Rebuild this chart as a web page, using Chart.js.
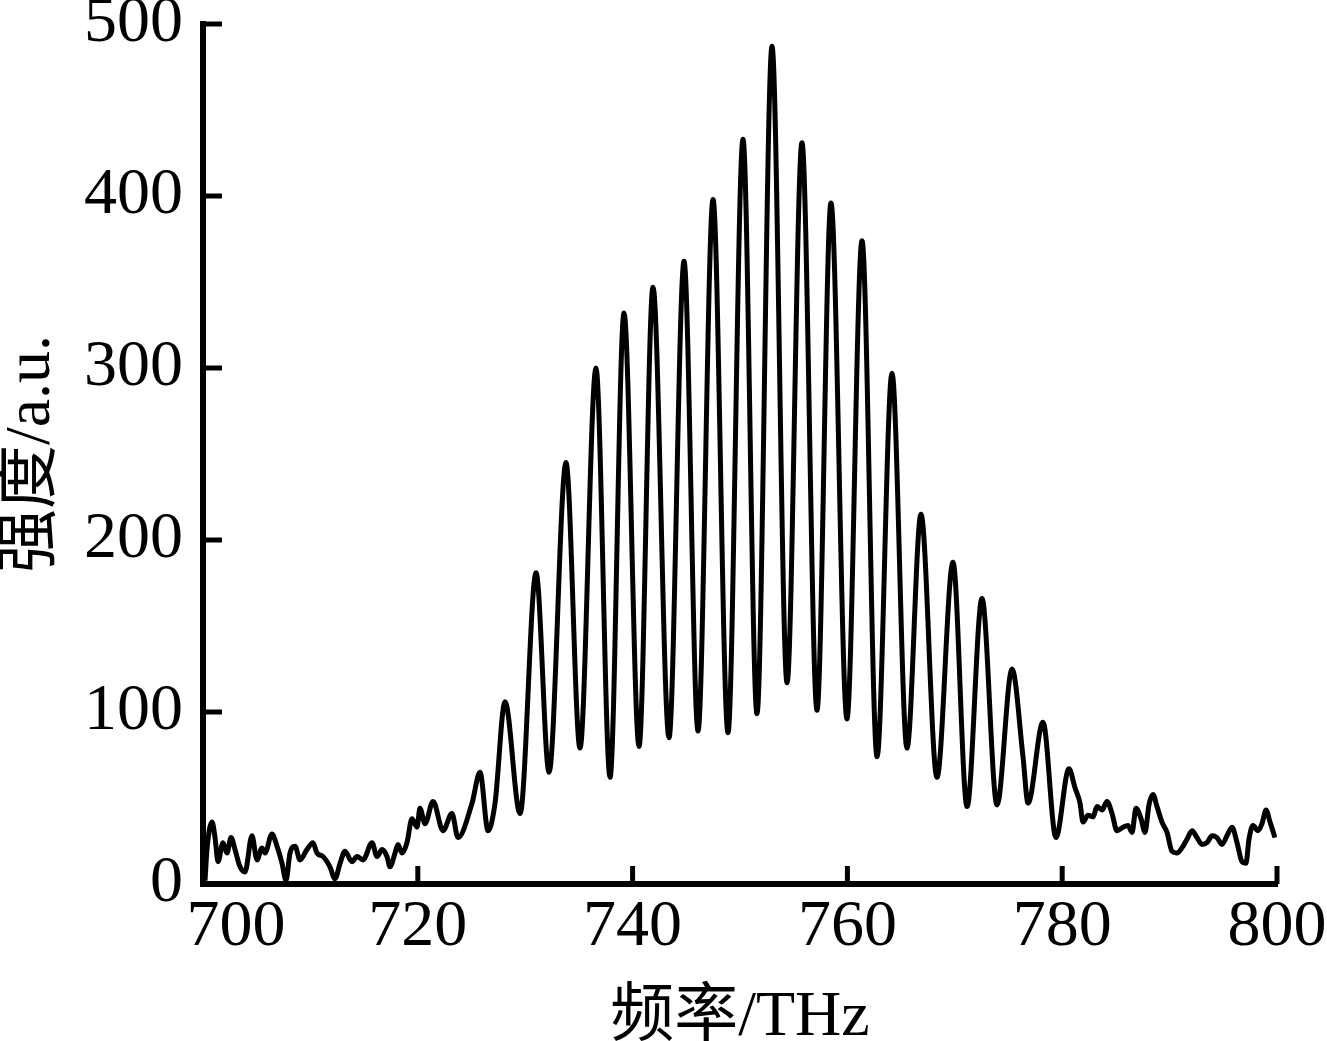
<!DOCTYPE html>
<html>
<head>
<meta charset="utf-8">
<title>频率/THz</title>
<script src="https://cdn.jsdelivr.net/npm/chart.js@4/dist/chart.umd.min.js"></script>
<style>
  html, body { margin: 0; padding: 0; background: #fff; }
  #wrap { width: 1327px; height: 1041px; }
</style>
</head>
<body>
<div id="wrap"><canvas id="spectrumChart" width="1327" height="1041"></canvas></div>
<script>
// 数据：频率 (THz) 与强度 (a.u.)
const freq = [
  // 700–728 THz 背景噪声
  700.19, 700.37, 700.84, 701.12, 701.40, 701.86, 702.23, 702.61, 702.98, 703.45,
  703.91, 704.56, 705.03, 705.49, 705.77, 706.42, 706.89, 707.36, 707.73, 708.10,
  708.57, 709.03, 709.68, 710.24, 710.61, 711.17, 711.82, 712.29, 712.76, 713.22,
  713.87, 714.34, 714.90, 715.74, 716.20, 716.67, 717.13, 717.41, 717.88, 718.16,
  718.53, 718.99, 719.46, 719.93, 720.20, 720.67, 721.42, 722.35, 723.18, 723.74,
  725.05, 725.79, 726.54, 727.19,
  // 干涉条纹
  728.12, 729.52, 731.01, 732.22, 733.80, 735.10, 736.59, 737.90, 739.20, 740.60,
  741.90, 743.39, 744.79, 746.09, 747.49, 748.88, 750.28, 751.58, 752.98, 754.38,
  755.77, 757.17, 758.47, 759.96, 761.36, 762.76, 764.15, 765.55, 766.85, 768.34,
  769.83, 771.14, 772.53, 773.93, 775.33, 776.35, 776.82, 778.21, 779.42,
  // 780–800 THz
  780.63, 781.19, 781.66, 781.94, 782.40, 782.87, 783.24, 783.71, 784.17, 784.64,
  785.10, 785.66, 786.13, 786.50, 786.87, 787.34, 787.71, 788.08, 788.45, 788.83,
  789.29, 789.76, 790.22, 790.69, 791.15, 791.62, 792.09, 792.55, 793.02, 793.48,
  793.95, 794.41, 794.88, 795.34, 795.81, 796.28, 796.74, 797.11, 797.39, 797.77,
  798.23, 798.60, 798.98, 799.35, 799.81
];
const intensity = [
  2, 20, 36, 27, 13, 24, 18, 27, 20, 10,
  7, 28, 14, 21, 18, 29, 22, 12, 2, 18,
  22, 14, 20, 24, 18, 16, 10, 3, 12, 19,
  13, 16, 14, 24, 16, 20, 16, 10, 18, 23,
  18, 24, 38, 33, 44, 35, 48, 31, 41, 27,
  47, 65, 31, 47,
  106, 41, 181, 65, 245, 79, 300, 62, 332, 80,
  347, 85, 362, 89, 398, 88, 433, 99, 487, 117,
  431, 101, 396, 96, 374, 74, 297, 79, 215, 62,
  187, 45, 166, 46, 125, 74, 47, 94, 27,
  67, 56, 47, 36, 40, 39, 45, 43, 48, 41,
  31, 33, 34, 30, 44, 38, 30, 46, 52, 45,
  36, 30, 19, 18, 21, 26, 31, 27, 23, 24,
  28, 27, 23, 28, 33, 24, 13, 12, 26, 34,
  31, 35, 43, 36, 27
];
const xTicks = [700, 720, 740, 760, 780, 800];
const yTicks = [0, 100, 200, 300, 400, 500];

const serif = '"Liberation Serif", "Times New Roman", "Noto Sans CJK SC", serif';

// 向内的刻度线
const inwardTicks = {
  id: 'inwardTicks',
  afterDraw(chart) {
    const { ctx, chartArea, scales } = chart;
    ctx.save();
    ctx.strokeStyle = '#000';
    ctx.lineWidth = 5;
    ctx.lineCap = 'butt';
    xTicks.forEach(v => {
      if (v === xTicks[0]) return;
      const px = scales.x.getPixelForValue(v);
      ctx.beginPath();
      ctx.moveTo(px, chartArea.bottom);
      ctx.lineTo(px, chartArea.bottom - 18);
      ctx.stroke();
    });
    yTicks.forEach(v => {
      if (v === yTicks[0]) return;
      const py = scales.y.getPixelForValue(v);
      ctx.beginPath();
      ctx.moveTo(chartArea.left, py);
      ctx.lineTo(chartArea.left + 19, py);
      ctx.stroke();
    });
    ctx.restore();
  }
};

function createSpectrumChart() {
  const ctx = document.getElementById('spectrumChart').getContext('2d');
  const points = freq.map((f, i) => ({ x: f, y: intensity[i] }));

  new Chart(ctx, {
    type: 'line',
    data: {
      datasets: [{
        data: points,
        borderColor: '#000',
        borderWidth: 5,
        borderJoinStyle: 'round',
        pointRadius: 0,
        fill: false,
        cubicInterpolationMode: 'monotone'
      }]
    },
    options: {
      responsive: false,
      animation: false,
      devicePixelRatio: 1,
      layout: { padding: { left: 0, right: 0, top: 24, bottom: 0 } },
      plugins: {
        legend: { display: false },
        tooltip: { enabled: false }
      },
      scales: {
        x: {
          type: 'linear',
          min: 700,
          max: 800,
          afterBuildTicks: scale => { scale.ticks = xTicks.map(v => ({ value: v })); },
          afterFit: scale => {
            scale.height = 157;
            scale.paddingLeft = 0;
            scale.paddingRight = 50;
          },
          grid: { display: false, drawTicks: false },
          border: { display: true, color: '#000', width: 6 },
          ticks: {
            color: '#000',
            padding: 11,
            maxRotation: 0,
            autoSkip: false,
            font: { family: serif, size: 66, lineHeight: 1 },
            // 700 稍向右移，避免和 0 重叠
            callback: v => (v === 700 ? '    700' : String(v))
          },
          title: {
            display: true,
            text: '频率/THz',
            color: '#000',
            padding: { top: 0, bottom: -9 },
            font: { family: serif, size: 64, lineHeight: 1 }
          }
        },
        y: {
          min: 0,
          max: 500,
          afterBuildTicks: scale => { scale.ticks = yTicks.map(v => ({ value: v })); },
          afterFit: scale => {
            scale.width = 203;
            scale.paddingTop = 0;
            scale.paddingBottom = 0;
          },
          grid: { display: false, drawTicks: false },
          border: { display: true, color: '#000', width: 6 },
          ticks: {
            color: '#000',
            padding: 20,
            font: { family: serif, size: 66, lineHeight: 0.75 }
          },
          title: {
            display: true,
            text: '强度/a.u.',
            color: '#000',
            padding: 0,
            font: { family: serif, size: 64, lineHeight: 1 }
          }
        }
      }
    },
    plugins: [inwardTicks]
  });
}

createSpectrumChart();
</script>
</body>
</html>
